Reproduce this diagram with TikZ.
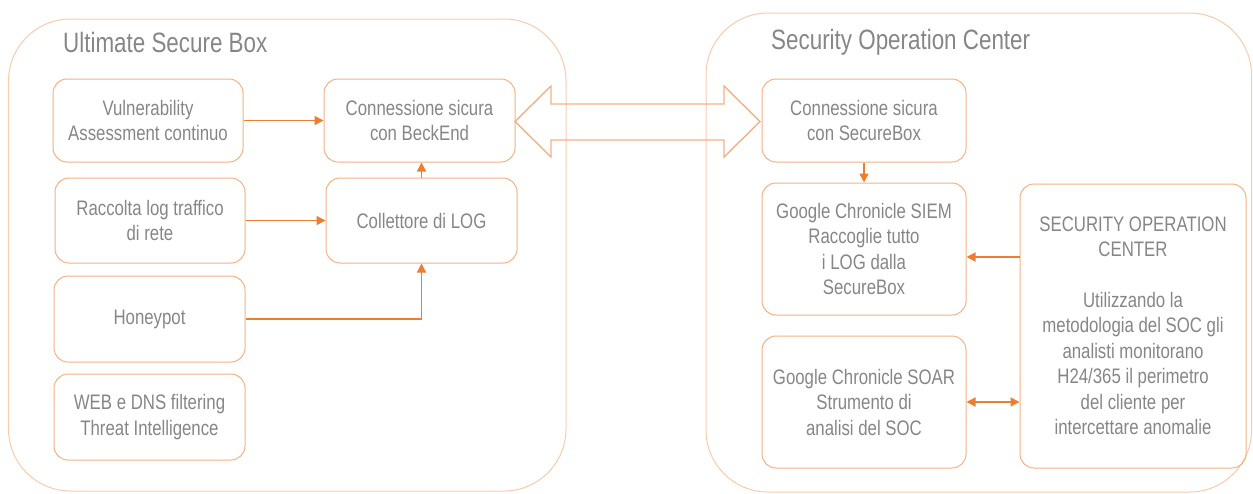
\documentclass[tikz,border=0pt]{standalone}
\usepackage{fontspec}
\setmainfont[FakeStretch=0.8]{Liberation Sans}
\usetikzlibrary{arrows.meta}
\definecolor{panelorange}{HTML}{F8CBAD}
\definecolor{boxorange}{HTML}{F4B183}
\definecolor{arroworange}{HTML}{ED7D31}
\definecolor{textgray}{HTML}{868686}
\tikzset{
	panel/.style={draw=panelorange, line width=1pt, rounded corners=62},
	itemstyle/.style={draw=boxorange, line width=1pt, rounded corners=14, align=center,
		text=textgray, font=\fontsize{21}{25.5}\selectfont, inner sep=0pt},
	titlestyle/.style={text=textgray, font=\fontsize{28}{32}\selectfont, anchor=west, inner sep=0pt},
	linkstyle/.style={draw=arroworange, line width=1.5pt, -{Triangle[length=9pt, width=9pt]}},
	bigarrow/.style={draw=boxorange, line width=1.4pt, line join=miter}
}

\begin{document}
\begin{tikzpicture}[x=1pt, y=-1pt]
\useasboundingbox (0, 0) rectangle (1253, 493);

% panels
\draw[panel] (8.5, 19) rectangle (566, 491);
\draw[panel] (706, 13) rectangle (1251.5, 492);
\node[titlestyle] (boxtitle) at (63, 42) {Ultimate Secure Box};
\node[titlestyle] (soctitle) at (771, 42) {Security Operation Center};

% left column
\node[itemstyle, minimum width=190, minimum height=83] (vuln) at (148, 120.5) {Vulnerability\\Assessment continuo};
\node[itemstyle, minimum width=190, minimum height=85] (raccolta) at (150, 220.5) {Raccolta log traffico\\di rete};
\node[itemstyle, minimum width=191, minimum height=86] (honeypot) at (149.5, 319) {Honeypot};
\node[itemstyle, minimum width=191, minimum height=86] (webdns) at (149.5, 417) {WEB e DNS filtering\\Threat Intelligence};

\node[itemstyle, minimum width=191, minimum height=83] (connbe) at (419.5, 120.5) {Connessione sicura\\con BeckEnd};
\node[itemstyle, minimum width=191, minimum height=85] (collettore) at (421.5, 220.5) {Collettore di LOG};

% right column
\node[itemstyle, minimum width=204, minimum height=83] (connsb) at (864, 120.5) {Connessione sicura\\con SecureBox};
\node[itemstyle, minimum width=204, minimum height=132] (siem) at (864, 249) {Google Chronicle SIEM\\Raccoglie tutto\\i LOG dalla\\SecureBox};
\node[itemstyle, minimum width=204, minimum height=132] (soar) at (864, 402) {Google Chronicle SOAR\\Strumento di\\analisi del SOC};
\node[itemstyle, minimum width=226, minimum height=284] (soc) at (1133, 326) {SECURITY OPERATION\\CENTER\\[25pt]Utilizzando la\\metodologia del SOC gli\\analisti monitorano\\H24/365 il perimetro\\del cliente per\\intercettare anomalie};

% big double arrow
\draw[bigarrow] (515, 121.5) -- (551, 86) -- (551, 104) -- (724, 104) -- (724, 86)
	-- (760, 121.5) -- (724, 157) -- (724, 140) -- (551, 140) -- (551, 157) -- cycle;

\draw[linkstyle] (vuln)--(connbe);
\draw[linkstyle] (raccolta)--(collettore);
\draw[linkstyle] (collettore.north)--(collettore.north |- connbe.south);
\draw[linkstyle] (honeypot.east) -| (collettore.south);

\draw[linkstyle] (connsb)--(siem);
\draw[linkstyle] ([yshift=-8pt]soc.west |- siem.east)--([yshift=-8pt]siem.east);
\draw[linkstyle, {Triangle[length=9pt, width=9pt]}-{Triangle[length=9pt, width=9pt]}] (soar.east)--(soar.east -| soc.west);
\end{tikzpicture}
\end{document}
